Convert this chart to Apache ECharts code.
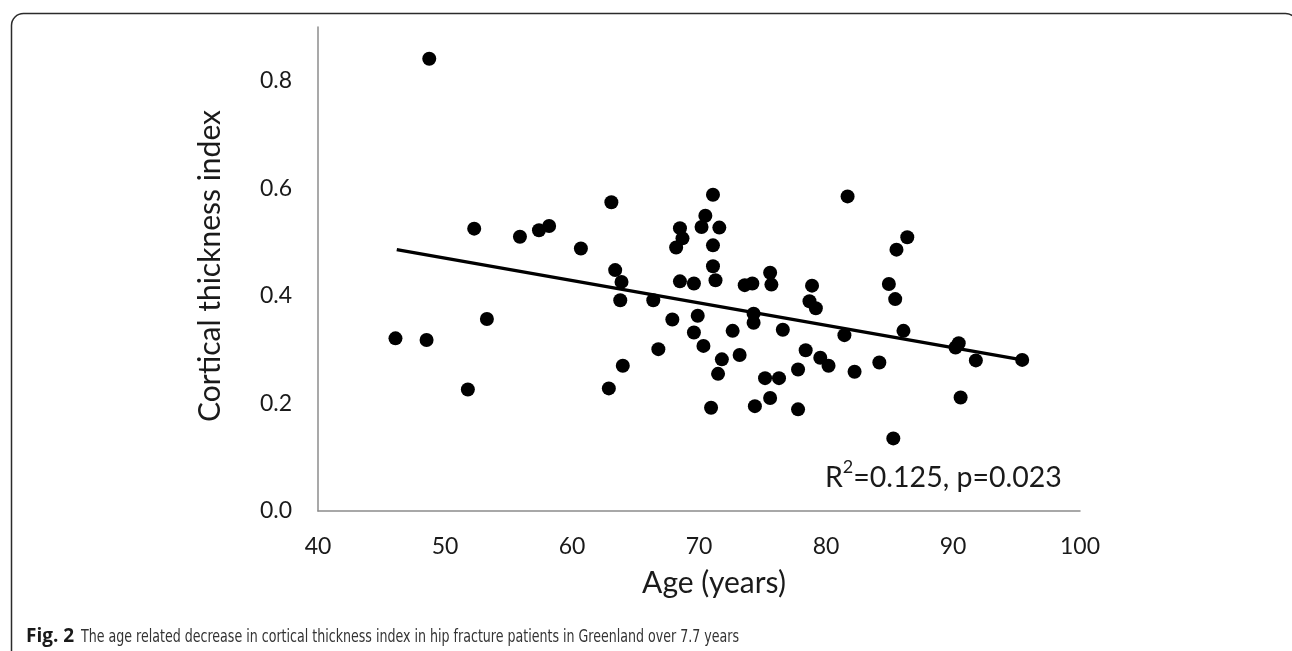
<!DOCTYPE html>
<html>
<head>
<meta charset="utf-8">
<script src="https://cdn.jsdelivr.net/npm/echarts@6/dist/echarts.min.js"></script>
<style>
html,body{margin:0;padding:0;background:#fff;}
#chart{width:1292px;height:651px;}
</style>
</head>
<body>
<div id="chart"></div>
<script>
// Age (years) of each patient
var ages = [46.1, 48.55, 48.76, 51.8, 52.3, 53.3, 55.9, 57.4, 58.2, 60.7,
  62.9, 63.1, 63.4, 63.9, 63.8, 64.0, 66.4, 66.8, 67.9, 68.2,
  68.5, 68.7, 68.5, 69.6, 69.6, 69.9, 70.2, 70.5, 70.35, 71.1,
  71.1, 71.1, 71.3, 71.6, 71.8, 71.5, 70.95, 72.65, 73.2, 73.6,
  74.2, 74.3, 74.3, 74.4, 75.2, 75.6, 75.7, 75.6, 76.3, 76.6,
  77.8, 77.8, 78.4, 78.7, 78.9, 79.2, 79.55, 80.2, 81.45, 81.7,
  82.25, 84.2, 84.95, 85.3, 85.45, 85.55, 86.1, 86.4, 90.2, 90.45,
  90.6, 91.8, 95.45];
// Cortical thickness index of each patient
var cti = [0.321, 0.318, 0.841, 0.226, 0.525, 0.357, 0.510, 0.522, 0.530, 0.488,
  0.228, 0.574, 0.448, 0.426, 0.392, 0.270, 0.392, 0.301, 0.356, 0.490,
  0.526, 0.507, 0.427, 0.423, 0.332, 0.363, 0.528, 0.549, 0.307, 0.588,
  0.494, 0.455, 0.429, 0.527, 0.282, 0.255, 0.192, 0.335, 0.290, 0.420,
  0.423, 0.367, 0.350, 0.195, 0.247, 0.443, 0.421, 0.210, 0.247, 0.337,
  0.263, 0.189, 0.299, 0.390, 0.419, 0.377, 0.285, 0.270, 0.327, 0.585,
  0.259, 0.276, 0.422, 0.135, 0.394, 0.486, 0.335, 0.509, 0.304, 0.312,
  0.211, 0.280, 0.281];
// Linear trend line end points (age, CTI)
var trendAges = [46.2, 95.45];
var trendCti = [0.486, 0.281];
var yTicks = [0.0, 0.2, 0.4, 0.6, 0.8];
var xTicks = [40, 50, 60, 70, 80, 90, 100];
var xTitle = "Age (years)";
var yTitle = "Cortical thickness index";
var statsR = "R";
var statsSup = "2";
var statsRest = "=0.125, p=0.023";
var captionBold = "Fig. 2";
var captionText = "The age related decrease in cortical thickness index in hip fracture patients in Greenland over 7.7 years";

var points = ages.map(function (a, i) { return [a, cti[i]]; });
var trend = trendAges.map(function (a, i) { return [a, trendCti[i]]; });

var chart = echarts.init(document.getElementById('chart'));
var labelFont = 'Lato, "Open Sans", sans-serif';
chart.setOption({
  animation: false,
  backgroundColor: '#fff',
  grid: { left: 318, top: 27, right: 212, bottom: 140, containLabel: false },
  xAxis: {
    type: 'value', min: 40, max: 100, interval: 10,
    axisLine: { show: true, lineStyle: { color: '#8c8c8c', width: 1.5 } },
    axisTick: { show: false },
    splitLine: { show: false },
    axisLabel: {
      margin: 24, color: '#1a1a1a', fontSize: 23, fontFamily: labelFont,
      formatter: function (v) { return xTicks.indexOf(v) >= 0 ? String(v) : ''; }
    }
  },
  yAxis: {
    type: 'value', min: 0, max: 0.9, interval: 0.2,
    axisLine: { show: true, onZero: false, lineStyle: { color: '#8c8c8c', width: 1.5 } },
    axisTick: { show: false },
    splitLine: { show: false },
    axisLabel: {
      margin: 26, color: '#1a1a1a', fontSize: 23, fontFamily: labelFont,
      showMaxLabel: false,
      formatter: function (v) {
        for (var i = 0; i < yTicks.length; i++) {
          if (Math.abs(yTicks[i] - v) < 1e-9) return yTicks[i].toFixed(1);
        }
        return '';
      }
    }
  },
  series: [
    {
      type: 'line', data: trend, symbol: 'none', silent: true, z: 3,
      lineStyle: { color: '#000', width: 3.5 }
    },
    {
      type: 'scatter', data: points, symbol: 'circle', symbolSize: 14, z: 4,
      itemStyle: { color: '#000', opacity: 1 }
    }
  ],
  graphic: [
    {
      type: 'rect', left: 9, top: 11, z: 0, silent: true,
      shape: { width: 1286, height: 660, r: 12 },
      style: { fill: 'none', stroke: '#2b2b2b', lineWidth: 1.5 }
    },
    {
      type: 'text', x: 714, y: 583, z: 10,
      style: { text: xTitle, font: '30px ' + labelFont, fill: '#1a1a1a',
        textAlign: 'center', textVerticalAlign: 'middle' }
    },
    {
      type: 'text', x: 210, y: 266, rotation: Math.PI / 2, z: 10,
      style: { text: yTitle, font: '30px ' + labelFont, fill: '#1a1a1a',
        textAlign: 'center', textVerticalAlign: 'middle' }
    },
    {
      type: 'text', left: 825, top: 458, z: 10,
      style: {
        text: '{a|' + statsR + '}{s|' + statsSup + '}{a|' + statsRest + '}',
        rich: {
          a: { fontSize: 28.5, fontFamily: labelFont, fill: '#1a1a1a', verticalAlign: 'bottom', lineHeight: 34 },
          s: { fontSize: 18, fontFamily: labelFont, fill: '#1a1a1a', verticalAlign: 'top', lineHeight: 34, padding: [0, 0, 14, 0] }
        }
      }
    },
    {
      type: 'text', x: 26, y: 637, z: 10,
      style: { text: captionBold, font: 'bold 19px "Open Sans", sans-serif', fill: '#1a1a1a',
        textAlign: 'left', textVerticalAlign: 'middle' }
    },
    {
      type: 'text', x: 81, y: 637, scaleX: 0.78, z: 10,
      style: { text: captionText, font: '18px "Liberation Sans Narrow", "DejaVu Sans Condensed", sans-serif', fill: '#333',
        textAlign: 'left', textVerticalAlign: 'middle' }
    }
  ]
});
</script>
</body>
</html>
